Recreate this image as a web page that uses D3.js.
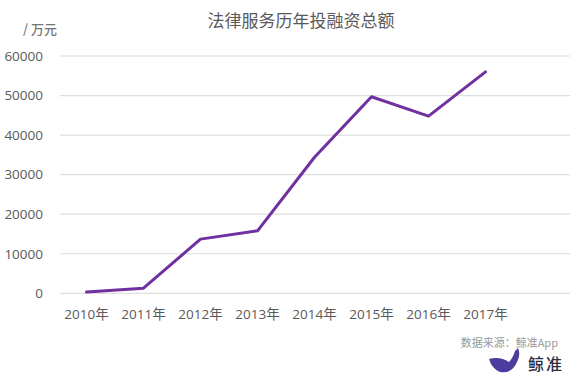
<!DOCTYPE html>
<html>
<head>
<meta charset="utf-8">
<script src="https://cdn.jsdelivr.net/npm/d3@7"></script>
<style>
  body { margin: 0; background: #fff; }
  svg { display: block; font-family: "Open Sans", "Noto Sans CJK SC", sans-serif; }
</style>
</head>
<body>
<svg id="chart" width="572" height="386"></svg>
<script>
// data
const years = ['2010年', '2011年', '2012年', '2013年', '2014年', '2015年', '2016年', '2017年'];
const totals = [300, 1300, 13700, 15800, 34400, 49700, 44800, 56000];
const yTicks = [0, 10000, 20000, 30000, 40000, 50000, 60000];

const svg = d3.select('#chart');

// layout - Excel leaves one empty slot at the right
const step = 57;
const x = d3.scaleBand().domain(years).range([58, 58 + step * years.length]);
const y = d3.scaleLinear().domain([0, 60000]).range([293.3, 56]);

// gridlines
svg.append('g')
  .selectAll('line')
  .data(yTicks)
  .join('line')
  .attr('x1', 60)
  .attr('x2', 570)
  .attr('y1', (d) => y(d))
  .attr('y2', (d) => y(d))
  .attr('stroke', '#dedede')
  .attr('stroke-width', 1.2);

// y axis labels
const yAxis = svg.append('g')
  .attr('transform', 'translate(43,0)')
  .call(d3.axisLeft(y).tickValues(yTicks).tickSize(0).tickPadding(0).tickFormat(d3.format('d')));
yAxis.select('.domain').remove();
yAxis.selectAll('text')
  .attr('fill', '#595959')
  .style('font-size', '13.5px')
  .style('font-family', '"Open Sans", "Noto Sans CJK SC", sans-serif');

// x axis labels
const xAxis = svg.append('g')
  .attr('transform', 'translate(0,309)')
  .call(d3.axisBottom(x).tickSize(0).tickPadding(0));
xAxis.select('.domain').remove();
xAxis.selectAll('text')
  .attr('fill', '#595959')
  .style('font-size', '13.5px')
  .style('font-family', '"Open Sans", "Noto Sans CJK SC", sans-serif');

// the line
const line = d3.line()
  .x((d, i) => x(years[i]) + x.bandwidth() / 2)
  .y((d) => y(d));

svg.append('path')
  .datum(totals)
  .attr('d', line)
  .attr('fill', 'none')
  .attr('stroke', '#7030a0')
  .attr('stroke-width', 3)
  .attr('stroke-linejoin', 'round')
  .attr('stroke-linecap', 'round');

// title + unit
svg.append('text')
  .attr('x', 301)
  .attr('y', 27)
  .attr('text-anchor', 'middle')
  .attr('fill', '#595959')
  .style('font-size', '17px')
  .style('font-family', '"Noto Sans CJK SC", sans-serif')
  .text('法律服务历年投融资总额');

svg.append('text')
  .attr('x', 23)
  .attr('y', 34)
  .attr('fill', '#767676')
  .style('font-size', '13px')
  .style('font-weight', '500')
  .style('font-family', '"Noto Sans CJK SC", sans-serif')
  .text('/ 万元');

// source note
svg.append('text')
  .attr('x', 558)
  .attr('y', 347)
  .attr('text-anchor', 'end')
  .attr('fill', '#9a9a9a')
  .style('font-size', '11px')
  .style('font-family', '"Noto Sans CJK SC", sans-serif')
  .text('数据来源：鲸准App');

// logo: little whale + name
svg.append('path')
  .attr('d', 'M489,359 Q500,356 509,362 Q513,358 515,351 L518,348 Q521,355 517,362 Q512,374 500,372 Q492,369 489,359 Z')
  .attr('fill', '#4b3c9e');

svg.append('text')
  .attr('x', 528)
  .attr('y', 370)
  .attr('fill', '#2d2d44')
  .style('font-size', '16px')
  .style('font-weight', '500')
  .style('letter-spacing', '2px')
  .style('font-family', '"Noto Sans CJK SC", sans-serif')
  .text('鲸准');
</script>
</body>
</html>
